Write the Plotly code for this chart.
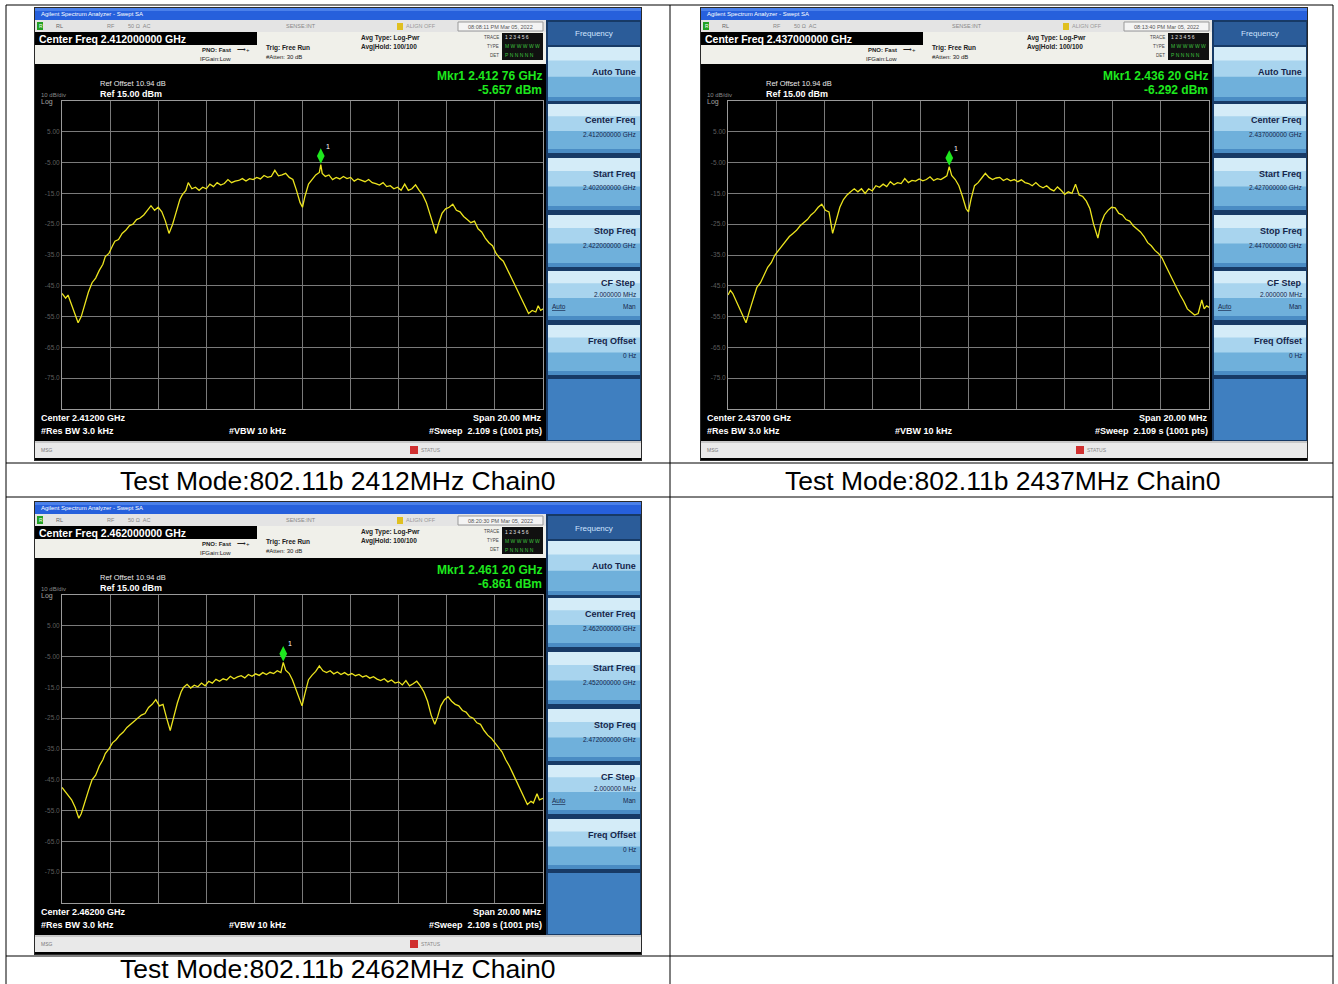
import plotly.graph_objects as go

# ---------------- data ----------------
center_ghz = [2.412, 2.437, 2.462]
captions = ["Test Mode:802.11b 2412MHz Chain0",
            "Test Mode:802.11b 2437MHz Chain0",
            "Test Mode:802.11b 2462MHz Chain0"]
marker_ghz = [2.41276, 2.43620, 2.46120]
marker_dbm = [-5.657, -6.292, -6.861]
timestamps = ["08:08:11 PM Mar 05, 2022", "08:13:40 PM Mar 05, 2022", "08:20:30 PM Mar 05, 2022"]
ref_level = 15.0
db_per_div = 10.0
span_mhz = 20.0

y_tick_vals = [-75, -65, -55, -45, -35, -25, -15, -5, 5]
y_tick_text = ["-75.0", "-65.0", "-55.0", "-45.0", "-35.0", "-25.0", "-15.0", "-5.00", "5.00"]

offsets_2412 = [-10.0, -9.85, -9.75, -9.6, -9.45, -9.33, -9.2, -9.05, -8.9, -8.75, -8.6, -8.45, -8.3, -8.2,
                -8.05, -7.9, -7.8, -7.65, -7.5, -7.35, -7.2, -7.05, -6.9, -6.75, -6.6, -6.45, -6.3, -6.15,
                -6.0, -5.85, -5.7, -5.55, -5.4, -5.25, -5.1, -5.0, -4.85, -4.75, -4.6, -4.45, -4.3, -4.15,
                -4.0, -3.85, -3.7, -3.55, -3.4, -3.25, -3.1, -2.95, -2.8, -2.65, -2.5, -2.35, -2.2, -2.05,
                -1.9, -1.75, -1.6, -1.45, -1.3, -1.15, -1.0, -0.85, -0.7, -0.55, -0.4, -0.25, -0.1, 0.0,
                0.1, 0.25, 0.4, 0.55, 0.7, 0.76, 0.82, 0.95, 1.1, 1.25, 1.4, 1.55, 1.7, 1.85, 2.0, 2.15,
                2.3, 2.45, 2.6, 2.75, 2.9, 3.05, 3.2, 3.35, 3.5, 3.65, 3.8, 3.95, 4.1, 4.25, 4.4, 4.55,
                4.7, 4.85, 5.0, 5.15, 5.3, 5.45, 5.55, 5.65, 5.8, 5.95, 6.1, 6.25, 6.4, 6.55, 6.7, 6.85,
                7.0, 7.15, 7.3, 7.45, 7.6, 7.75, 7.9, 8.05, 8.2, 8.35, 8.5, 8.65, 8.8, 8.95, 9.1, 9.25,
                9.4, 9.55, 9.7, 9.8, 9.9, 10.0]
levels_2412 = [-47.5, -49, -48, -51, -54, -57, -55, -51, -47, -44, -42.5, -40, -38, -35.5,
               -34.5, -32, -30.5, -30, -28, -27, -25.5, -25, -23.5, -23, -22, -20.5, -19, -20.5,
               -19.5, -21, -24, -28, -25, -21, -17, -15.5, -14, -11.5, -13.5, -13, -14, -13,
               -13.5, -12, -12.8, -11.5, -12.3, -11.8, -10.5, -11.5, -11, -10.8, -10.2, -11, -10.2, -10.5,
               -9.8, -10.3, -9.2, -9.8, -9.5, -7.5, -9.3, -9, -8.5, -9.8, -10.5, -14, -18, -19.5,
               -16, -12, -10.5, -9, -8.2, -5.66, -8.5, -9.5, -9, -10.5, -9.8, -10.3, -9.5, -10.2, -9.8, -11,
               -10.3, -10.8, -11.2, -10.5, -11.5, -11.8, -12.3, -11.5, -12.8, -12.5, -13.5, -13, -14, -12, -14, -13.5,
               -12.2, -14, -15.5, -18, -22, -26, -28, -25, -21.5, -20, -19.5, -18.5, -20.5, -21, -22.5, -23.5,
               -24.5, -24, -26.5, -27.5, -29.5, -31, -32, -34.5, -36, -37, -39.5, -41.5, -44, -46.5, -49.5, -52,
               -54, -53, -53.5, -51.5, -53, -52.5]

offsets_2437 = [-10.0, -9.9, -9.8, -9.65, -9.5, -9.35, -9.25, -9.1, -8.95, -8.8, -8.65, -8.5, -8.35, -8.2,
                -8.05, -7.9, -7.75, -7.6, -7.45, -7.3, -7.15, -7.0, -6.85, -6.7, -6.55, -6.4, -6.25, -6.1,
                -5.95, -5.8, -5.65, -5.5, -5.35, -5.2, -5.05, -4.9, -4.75, -4.6, -4.45, -4.3, -4.15, -4.0,
                -3.85, -3.7, -3.55, -3.4, -3.25, -3.1, -2.95, -2.8, -2.65, -2.5, -2.35, -2.2, -2.05, -1.9,
                -1.75, -1.6, -1.45, -1.3, -1.15, -1.0, -0.9, -0.8, -0.7, -0.55, -0.4, -0.25, -0.1, 0.0,
                0.1, 0.25, 0.4, 0.55, 0.7, 0.85, 1.0, 1.15, 1.3, 1.45, 1.6, 1.75, 1.9, 2.05, 2.2, 2.35,
                2.5, 2.65, 2.8, 2.95, 3.1, 3.25, 3.4, 3.55, 3.7, 3.85, 4.0, 4.15, 4.3, 4.45, 4.6, 4.75,
                4.9, 5.05, 5.2, 5.38, 5.5, 5.65, 5.8, 5.95, 6.1, 6.25, 6.4, 6.55, 6.7, 6.85, 7.0, 7.15,
                7.3, 7.45, 7.6, 7.75, 7.9, 8.05, 8.2, 8.35, 8.5, 8.65, 8.8, 8.95, 9.1, 9.25, 9.4, 9.55,
                9.7, 9.8, 9.9, 10.0]
levels_2437 = [-48, -46.5, -47.5, -50, -53, -55.5, -57, -53, -49, -45.5, -44, -41.5, -39, -37.5,
               -35, -33.5, -32, -30.5, -29, -28, -27, -25.5, -24.5, -23.5, -22, -21, -19.5, -18.5,
               -20.5, -21, -28, -24, -19.5, -17, -15.5, -14.5, -13.5, -14.5, -13.5, -15, -13.5, -14.2,
               -12.5, -13, -12, -12.8, -11.2, -12.2, -11.5, -11.8, -10.2, -11.5, -10.8, -11, -10.3, -10.9,
               -10.5, -9.6, -10.8, -10.2, -10.5, -9.8, -9.3, -6.29, -9.2, -10.5, -12.5, -16, -20, -21,
               -17, -12.5, -11.5, -10, -8.5, -9.8, -10.5, -10, -9.8, -10.8, -10.2, -10.9, -10.5, -11.2, -10.6, -11.5,
               -11.8, -12.5, -11.5, -12.6, -13.2, -12.5, -13.6, -14.2, -12.9, -14, -15.3, -14.5, -15, -12, -15.5, -16,
               -17.5, -20, -25, -29.5, -25, -22, -20.5, -19.5, -19.7, -21.5, -22, -23.5, -24, -25.5, -26.5, -27.5,
               -29, -31, -32, -33.5, -34.5, -36, -38.5, -41, -43, -45.5, -48, -50, -52.5, -53.5, -54.5, -54,
               -49.6, -52.5, -51.5, -52]

offsets_2462 = [-10.0, -9.9, -9.75, -9.6, -9.45, -9.3, -9.2, -9.05, -8.9, -8.75, -8.6, -8.45, -8.3, -8.2,
                -8.05, -7.9, -7.75, -7.6, -7.45, -7.3, -7.15, -7.0, -6.85, -6.7, -6.55, -6.4, -6.25, -6.1,
                -5.95, -5.8, -5.65, -5.5, -5.35, -5.2, -5.05, -4.95, -4.8, -4.65, -4.5, -4.35, -4.2, -4.05,
                -3.9, -3.75, -3.6, -3.45, -3.3, -3.15, -3.0, -2.85, -2.7, -2.55, -2.4, -2.25, -2.1, -1.95,
                -1.8, -1.65, -1.5, -1.35, -1.2, -1.05, -0.9, -0.8, -0.7, -0.55, -0.42, -0.28, -0.12, -0.02,
                0.1, 0.25, 0.4, 0.55, 0.7, 0.85, 1.0, 1.15, 1.3, 1.45, 1.6, 1.75, 1.9, 2.05, 2.2, 2.35,
                2.5, 2.65, 2.8, 2.95, 3.1, 3.25, 3.4, 3.55, 3.7, 3.85, 4.0, 4.15, 4.3, 4.45, 4.6, 4.75,
                4.9, 5.05, 5.2, 5.35, 5.5, 5.62, 5.75, 5.9, 6.05, 6.2, 6.35, 6.5, 6.65, 6.8, 6.95, 7.1,
                7.25, 7.4, 7.55, 7.7, 7.85, 8.0, 8.15, 8.3, 8.45, 8.6, 8.75, 8.9, 9.05, 9.2, 9.35, 9.5,
                9.6, 9.75, 9.85, 10.0]
levels_2462 = [-47.5, -48.5, -50, -51.5, -54, -57.5, -56, -52, -48.5, -45, -43.5, -40.5, -38.5, -36.5,
               -35, -33, -32, -30.5, -29.5, -28, -27, -26, -25, -24, -23.5, -21.5, -20.5, -19,
               -21, -20.5, -25, -29, -24.5, -20, -16.5, -15, -14, -15.2, -14.3, -14.8, -13.6, -14.5,
               -13, -13.6, -12.4, -13, -12.2, -12.6, -11.4, -12.2, -11.6, -11.2, -11.9, -10.8, -11.4, -10.6,
               -11.1, -10.2, -10.8, -10.1, -10.5, -9.6, -10.2, -6.86, -9.4, -10.5, -12.5, -15.5, -19, -21,
               -17, -12.5, -11, -9.8, -8, -9.6, -10.2, -9.6, -10.6, -10, -10.8, -10.2, -11, -10.5, -11.2, -10.8,
               -11.6, -11.2, -12, -11.5, -12.3, -12.8, -12.2, -13.2, -12.6, -13.6, -13.2, -14.2, -12.8, -14.5, -13.8, -13,
               -14.5, -16.5, -19.5, -24, -27, -24.5, -21, -19, -18, -19.5, -20.5, -21, -22.5, -23, -24.5, -25,
               -26.5, -27, -29, -30.5, -31.5, -33, -34.5, -36, -38.5, -40.5, -43, -45.5, -48, -50.5, -53, -52,
               -52.5, -49.5, -51.5, -51]

offsets_all = [offsets_2412, offsets_2437, offsets_2462]
levels_all = [levels_2412, levels_2437, levels_2462]

# ---------------- layout helpers ----------------
W, H = 1338, 984
FONT = "Liberation Sans, Arial, sans-serif"
shapes = []
annotations = []


def px(x):
    return x / W


def py(y):
    return 1 - y / H


def rect(x0, y0, x1, y1, fill, line_color=None, lw=0, layer="below"):
    shapes.append(dict(type="rect", xref="paper", yref="paper",
                       x0=px(x0), x1=px(x1), y0=py(y1), y1=py(y0),
                       fillcolor=fill, layer=layer,
                       line=dict(width=lw, color=line_color or fill)))


def line(x0, y0, x1, y1, color="black", lw=1, layer="above"):
    shapes.append(dict(type="line", xref="paper", yref="paper",
                       x0=px(x0), x1=px(x1), y0=py(y0), y1=py(y1), layer=layer,
                       line=dict(width=lw, color=color)))


def text(x, y, s, size=9, color="white", anchor="left", family=FONT):
    annotations.append(dict(xref="paper", yref="paper", x=px(x), y=py(y), text=s,
                            showarrow=False, xanchor=anchor, yanchor="middle",
                            borderpad=0, font=dict(size=size, color=color, family=family)))


def mkr_label(ghz):
    mhz = ghz * 1000.0
    whole = int(mhz + 1e-6)
    frac = int(round((mhz - whole) * 100))
    return "%d.%03d %02d" % (whole // 1000, whole % 1000, frac)


fig = go.Figure()

panel_origins = [(0, 0), (666, 0), (0, 494)]

for i, (dx, dy) in enumerate(panel_origins):
    c = center_ghz[i]
    ax = "" if i == 0 else str(i + 1)

    def R(x0, y0, x1, y1, fill, **kw):
        rect(x0 + dx, y0 + dy, x1 + dx, y1 + dy, fill, **kw)

    def T(x, y, s, **kw):
        text(x + dx, y + dy, s, **kw)

    # screenshot frame
    R(34, 7, 642, 461, "#2a2a2a")
    R(35, 8, 641, 460, "#000000")
    # title bar
    R(35, 8, 641, 20, "#2660dc")
    R(35, 8, 641, 11, "#4a80ea")
    T(40, 14, "Agilent Spectrum Analyzer - Swept SA", size=6, color="#ffffff")
    # status row
    R(35, 20, 546, 32, "#e4e4e4")
    R(37, 22, 43, 30, "#22a022")
    T(38, 26, "R", size=5, color="#ffffff")
    T(55, 26, "RL", size=5.5, color="#666666")
    T(106, 26, "RF", size=5.5, color="#888888")
    T(127, 26, "50 Ω  AC", size=5.5, color="#888888")
    T(285, 26, "SENSE:INT", size=5.5, color="#888888")
    R(397, 23, 403, 30, "#e0c020")
    T(405, 26, "ALIGN OFF", size=5.5, color="#999999")
    R(458, 22, 543, 31, "#f4f4f4", line_color="#999999", lw=1)
    T(500, 26.5, timestamps[i], size=5.5, color="#555555", anchor="center")
    # header rows
    R(35, 32, 546, 64, "#f0f0ea")
    R(35, 32, 257, 45, "#000000")
    T(38, 39, "<b>Center Freq %.9f GHz</b>" % c, size=10.5, color="#ffffff")
    T(232, 50, "<b>PNO: Fast</b>", size=6, color="#222222", anchor="right")
    T(236, 50, "⟶+", size=6, color="#222222")
    T(232, 59, "IFGain:Low", size=6, color="#222222", anchor="right")
    T(265, 48, "<b>Trig: Free Run</b>", size=6.5, color="#222222")
    T(265, 57, "#Atten: 30 dB", size=6, color="#222222")
    T(360, 38, "<b>Avg Type: Log-Pwr</b>", size=6.5, color="#222222")
    T(360, 47, "<b>Avg|Hold: 100/100</b>", size=6.5, color="#222222")
    T(500, 37, "TRACE", size=4.5, color="#444444", anchor="right")
    T(500, 46, "TYPE", size=4.5, color="#444444", anchor="right")
    T(500, 55, "DET", size=4.5, color="#444444", anchor="right")
    R(502, 33, 543, 60, "#101010")
    T(504, 37.5, "1 2 3 4 5 6", size=5, color="#e0e0e0")
    T(504, 46.5, "M W W W W W", size=5, color="#3fc03f")
    T(504, 55.5, "P N N N N N", size=5, color="#3fc03f")

    # graph area texts
    T(99, 83, "Ref Offset 10.94 dB", size=7.5, color="#e8e8e8")
    T(99, 94, "<b>Ref 15.00 dBm</b>", size=9, color="#ffffff")
    T(40, 95, "10 dB/div", size=6, color="#8a8a8a")
    T(40, 102, "Log", size=7, color="#a0a0a0")
    T(543, 76, "<b>Mkr1 %s GHz</b>" % mkr_label(marker_ghz[i]), size=12, color="#1ee81e", anchor="right")
    T(543, 90, "<b>%.3f dBm</b>" % marker_dbm[i], size=12, color="#1ee81e", anchor="right")

    # bottom annotations
    T(40, 418, "<b>Center %.5f GHz</b>" % c, size=9, color="#ffffff")
    T(40, 431, "<b>#Res BW 3.0 kHz</b>", size=9, color="#ffffff")
    T(258, 431, "<b>#VBW 10 kHz</b>", size=9, color="#ffffff", anchor="center")
    T(543, 418, "<b>Span %.2f MHz</b>" % span_mhz, size=9, color="#ffffff", anchor="right")
    T(543, 431, "<b>#Sweep  2.109 s (1001 pts)</b>", size=9, color="#ffffff", anchor="right")

    # status bar
    R(35, 441, 641, 458, "#e9e9e9")
    R(35, 441, 641, 443, "#c8c8c8")
    T(40, 450, "MSG", size=5, color="#777777")
    R(410, 446, 418, 454, "#d03030")
    T(420, 450, "STATUS", size=5, color="#888888")

    # right soft-key panel
    R(546, 20, 641, 441, "#173a66")
    R(548, 22, 640, 45, "#2b5c99")
    T(594, 34, "Frequency", size=8, color="#cfe4ff", anchor="center")
    keys = [(47, 101, "Auto Tune", None),
            (104, 153, "Center Freq", "%.9f GHz" % c),
            (158, 210, "Start Freq", "%.9f GHz" % (c - 0.01)),
            (215, 267, "Stop Freq", "%.9f GHz" % (c + 0.01)),
            (271, 320, "CF Step", "2.000000 MHz"),
            (325, 375, "Freq Offset", "0 Hz")]
    for (k0, k1, lab, sub) in keys:
        h = k1 - k0
        R(548, k0, 640, k1, "#6fb0db")
        R(548, k0, 640, k0 + h * 0.55, "#a8d4ee")
        R(548, k0, 640, k0 + h * 0.25, "#d4ecf8")
        R(548, k1 - 4, 640, k1, "#4a8cc4")
        if sub is None:
            T(637, (k0 + k1) / 2 - 2, "<b>%s</b>" % lab, size=9, color="#16254a", anchor="right")
        elif lab == "CF Step":
            T(637, k0 + 12, "<b>%s</b>" % lab, size=9, color="#16254a", anchor="right")
            T(637, k0 + 23, sub, size=6.5, color="#16254a", anchor="right")
            T(551, k0 + 35, "<u>Auto</u>", size=6.5, color="#16254a")
            T(637, k0 + 35, "Man", size=6.5, color="#16254a", anchor="right")
        else:
            T(637, k0 + 16, "<b>%s</b>" % lab, size=9, color="#16254a", anchor="right")
            T(637, k0 + 30, sub, size=6.5, color="#16254a", anchor="right")
    R(548, 379, 640, 440, "#3f7fc0")

    # spectrum trace
    fig.add_trace(go.Scatter(x=offsets_all[i], y=levels_all[i], mode="lines",
                             line=dict(color="#ece41e", width=1.3),
                             xaxis="x" + ax, yaxis="y" + ax, hoverinfo="skip"))
    mk_off = (marker_ghz[i] - c) * 1000
    fig.add_trace(go.Scatter(x=[mk_off], y=[marker_dbm[i] + 2.8], mode="markers",
                             marker=dict(symbol="diamond-tall", size=11, color="#1ee81e",
                                         line=dict(width=0)),
                             xaxis="x" + ax, yaxis="y" + ax, hoverinfo="skip"))
    annotations.append(dict(xref="x" + ax, yref="y" + ax, x=mk_off, y=marker_dbm[i] + 6,
                            xshift=7, text="1", showarrow=False,
                            font=dict(size=7, color="#ffffff", family=FONT)))

    gx0, gx1 = 62 + dx, 543 + dx
    gy0, gy1 = 101 + dy, 409 + dy
    xa = dict(domain=[px(gx0), px(gx1)], range=[-span_mhz / 2, span_mhz / 2],
              tickvals=[-10, -8, -6, -4, -2, 0, 2, 4, 6, 8, 10], showticklabels=False,
              showgrid=True, gridcolor="#7a7a7a", gridwidth=1, zeroline=False,
              showline=True, linecolor="#9a9a9a", linewidth=1, mirror=True, ticks="",
              anchor="y" + ax, fixedrange=True)
    ya = dict(domain=[py(gy1), py(gy0)],
              range=[ref_level - 10 * db_per_div, ref_level],
              tickvals=y_tick_vals, ticktext=y_tick_text,
              tickfont=dict(size=6.5, color="#5e5e5e", family=FONT),
              showgrid=True, gridcolor="#7a7a7a", gridwidth=1, zeroline=False,
              showline=True, linecolor="#9a9a9a", linewidth=1, mirror=True, ticks="",
              anchor="x" + ax, fixedrange=True)
    fig.layout["xaxis" + ax] = xa
    fig.layout["yaxis" + ax] = ya

# ---------------- table borders and captions ----------------
line(6, 5, 1333, 5)
line(6, 5, 6, 984)
line(1333, 5, 1333, 984)
line(670, 5, 670, 984)
line(6, 463, 1333, 463)
line(6, 497, 1333, 497)
line(6, 956, 1333, 956)

text(338, 481, captions[0], size=26.5, color="#000000", anchor="center", family="Liberation Sans, Arial")
text(1003, 481, captions[1], size=26.5, color="#000000", anchor="center", family="Liberation Sans, Arial")
text(338, 969, captions[2], size=26.5, color="#000000", anchor="center", family="Liberation Sans, Arial")

fig.update_layout(width=W, height=H, margin=dict(l=0, r=0, t=0, b=0),
                  paper_bgcolor="#ffffff", plot_bgcolor="rgba(0,0,0,0)",
                  showlegend=False, shapes=shapes, annotations=annotations)

fig.write_html("out.html", config={"displayModeBar": False},
               post_script="document.body.style.margin='0';document.body.style.overflow='hidden';")
